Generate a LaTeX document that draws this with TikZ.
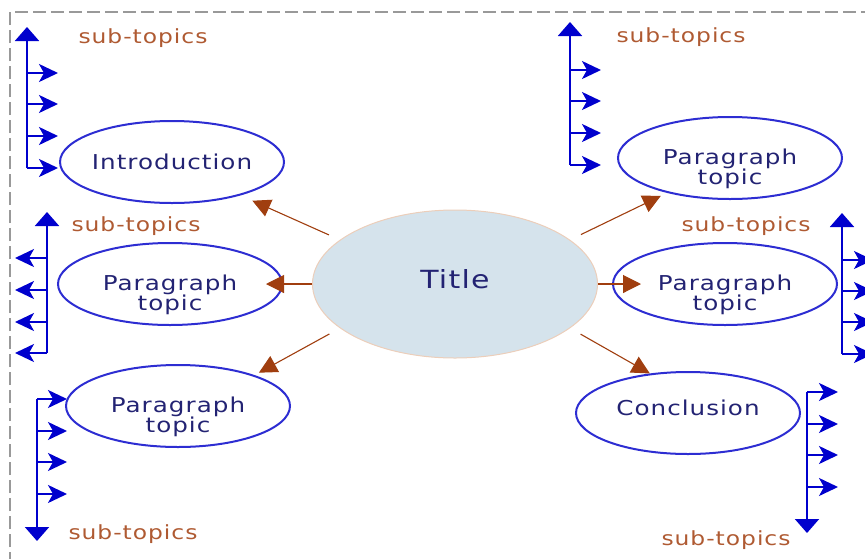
\documentclass[tikz,border=0pt]{standalone}
\usepackage{fontspec}
\setmainfont{DejaVu Sans}[FakeStretch=1.2,LetterSpace=5]
\usetikzlibrary{arrows.meta,shapes.geometric}
\definecolor{ovalblue}{RGB}{45,45,210}
\definecolor{treeblue}{RGB}{0,0,205}
\definecolor{inkblue}{RGB}{35,35,115}
\definecolor{rust}{RGB}{160,62,15}
\definecolor{notebrown}{RGB}{175,90,50}
\definecolor{titlefill}{RGB}{213,227,236}
\definecolor{titleline}{RGB}{236,206,186}

\begin{document}
\begin{tikzpicture}[x=1pt, y=-1pt,
    topicnode/.style={ellipse, draw=ovalblue, line width=2pt, minimum width=224pt, minimum height=82pt, inner sep=0pt},
    topictext/.style={text=inkblue, align=center, inner sep=0pt, font=\fontsize{20.5}{20}\selectfont},
    titlenode/.style={ellipse, draw=titleline, fill=titlefill, line width=1pt, minimum width=285pt, minimum height=148pt, inner sep=0pt},
    titletext/.style={text=inkblue, inner sep=0pt, font=\fontsize{25}{26}\selectfont},
    subnote/.style={text=notebrown, inner sep=0pt, font=\fontsize{19.5}{20}\selectfont},
    link/.style={draw=rust, line width=1.1pt, -{Triangle[length=18pt,width=18pt]}},
    spine/.style={draw=treeblue, line width=2pt, -{Triangle[length=14pt,width=24pt]}},
    twig/.style={draw=treeblue, line width=2pt, -{Stealth[length=19pt,width=18pt,inset=5pt]}},
    frame/.style={draw=black!40, line width=1.4pt, dash pattern=on 13pt off 5pt}
    ]
    \useasboundingbox (0,0) rectangle (865,558);
    \draw [frame] (10,565) |- (870,12);

    \node [titlenode, label={[titletext, yshift=5pt]center:Title}] (t0) at (455,284) {};

    \node [topicnode, label={[topictext, yshift=0pt]center:Introduction}] (p1) at (172,162) {};
    \node [topicnode, label={[topictext, yshift=-11pt]center:Paragraph\\topic}] (p2) at (730,158) {};
    \node [topicnode, label={[topictext, yshift=-11pt]center:Paragraph\\topic}] (p3) at (170,284) {};
    \node [topicnode, label={[topictext, yshift=-11pt]center:Paragraph\\topic}] (p4) at (725,284) {};
    \node [topicnode, label={[topictext, yshift=-11pt]center:Paragraph\\topic}] (p5) at (178,406) {};
    \node [topicnode, label={[topictext, yshift=5pt]center:Conclusion}] (p6) at (688,413) {};

    \draw [link, shorten <=12pt, shorten >=13pt] (t0.159) -- (p1.-26);
    \draw [link, shorten <=12pt, shorten >=7pt] (t0.21) -- (p2.209);
    \draw [link, shorten >=-17pt] (t0.west) -- (p3.east);
    \draw [link, shorten >=-29pt] (t0.east) -- (p4.west);
    \draw [link, shorten <=12pt, shorten >=5pt] (t0.201) -- (p5.22);
    \draw [link, shorten <=12pt] (t0.339) -- (p6.134);

    \node [subnote] (s1) at (143,38) { sub-topics };
    \node [subnote] (s2) at (681,37) { sub-topics };
    \node [subnote] (s3) at (136,226) { sub-topics };
    \node [subnote] (s4) at (746,226) { sub-topics };
    \node [subnote] (s5) at (133,534) { sub-topics };
    \node [subnote] (s6) at (726,540) { sub-topics };

    \coordinate (a0) at (27,168);
    \coordinate (a5) at (27,27);
    \draw [spine] (a0) -- (a5);
    \foreach \y [count=\i] in {73,104,136,168} {
        \coordinate (a\i) at (27,\y);
        \coordinate (ae\i) at (58,\y);
        \draw [twig] (a\i) -- (ae\i);
    }

    \coordinate (b0) at (570,165);
    \coordinate (b5) at (570,22);
    \draw [spine] (b0) -- (b5);
    \foreach \y [count=\i] in {70,101,133,165} {
        \coordinate (b\i) at (570,\y);
        \coordinate (be\i) at (601,\y);
        \draw [twig] (b\i) -- (be\i);
    }

    \coordinate (c0) at (47,353);
    \coordinate (c5) at (47,212);
    \draw [spine] (c0) -- (c5);
    \foreach \y [count=\i] in {258,290,322,353} {
        \coordinate (c\i) at (47,\y);
        \coordinate (ce\i) at (15,\y);
        \draw [twig] (c\i) -- (ce\i);
    }

    \coordinate (d0) at (842,354);
    \coordinate (d5) at (842,213);
    \draw [spine] (d0) -- (d5);
    \foreach \y [count=\i] in {260,291,322,354} {
        \coordinate (d\i) at (842,\y);
        \coordinate (de\i) at (873,\y);
        \draw [twig] (d\i) -- (de\i);
    }

    \coordinate (e0) at (37,399);
    \coordinate (e5) at (37,541);
    \draw [spine] (e0) -- (e5);
    \foreach \y [count=\i] in {399,431,462,494} {
        \coordinate (e\i) at (37,\y);
        \coordinate (ee\i) at (67,\y);
        \draw [twig] (e\i) -- (ee\i);
    }

    \coordinate (f0) at (807,392);
    \coordinate (f5) at (807,533);
    \draw [spine] (f0) -- (f5);
    \foreach \y [count=\i] in {392,424,455,487} {
        \coordinate (f\i) at (807,\y);
        \coordinate (fe\i) at (838,\y);
        \draw [twig] (f\i) -- (fe\i);
    }
\end{tikzpicture}
\end{document}
